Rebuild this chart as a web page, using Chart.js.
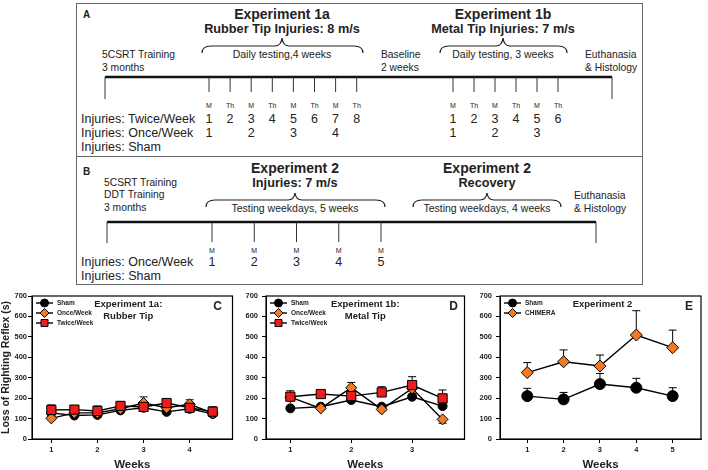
<!DOCTYPE html>
<html>
<head>
<meta charset="utf-8">
<title>Loss of Righting Reflex</title>
<script src="https://cdn.jsdelivr.net/npm/chart.js@4.4.0/dist/chart.umd.min.js"></script>
<style>
  body { margin:0; width:708px; height:470px; background:#fff; position:relative; overflow:hidden;
         font-family:"Liberation Sans", Arial, sans-serif; }
  #diagram { position:absolute; left:0; top:0; }
  canvas { position:absolute; }
</style>
</head>
<body>
<svg id="diagram" width="708" height="290"></svg>
<canvas id="chartC" width="240" height="188" style="left:0;top:286px"></canvas>
<canvas id="chartD" width="232" height="188" style="left:240px;top:286px"></canvas>
<canvas id="chartE" width="236" height="188" style="left:472px;top:286px"></canvas>
<script>
// ---- timeline labels (panels A, B)
const exp1aDays  = ['M','Th','M','Th','M','Th','M','Th'];
const exp1aTwice = ['1','2','3','4','5','6','7','8'];
const exp1aOnce  = ['1','','2','','3','','4',''];
const exp1bDays  = ['M','Th','M','Th','M','Th'];
const exp1bTwice = ['1','2','3','4','5','6'];
const exp1bOnce  = ['1','','2','','3',''];
const exp2Days   = ['M','M','M','M','M'];
const exp2Once   = ['1','2','3','4','5'];

// ---- panel C: Experiment 1a, rubber tip
const weeksC = [1, 1.5, 2, 2.5, 3, 3.5, 4, 4.5];
const ticksC = [1, 2, 3, 4];
const shamC  = [128, 115, 118, 140, 153, 133, 148, 123];
const shamErrC = [8, 8, 8, 10, 12, 10, 12, 8];
const onceC  = [101, 128, 128, 148, 176, 153, 170, 127];
const onceErrC = [10, 10, 10, 12, 30, 15, 22, 10];
const twiceC = [142, 144, 137, 162, 157, 176, 153, 134];
const twiceErrC = [25, 12, 25, 20, 15, 21, 15, 24];

// ---- panel D: Experiment 1b, metal tip
const weeksD = [1, 1.5, 2, 2.5, 3, 3.5];
const ticksD = [1, 2, 3];
const shamD  = [150, 158, 191, 158, 207, 161];
const shamErrD = [8, 8, 10, 8, 12, 10];
const onceD  = [205, 150, 251, 145, 248, 96];
const onceErrD = [10, 8, 26, 10, 20, -19];
const twiceD = [207, 220, 210, 228, 264, 199];
const twiceErrD = [29, 10, 10, 28, 41, 41];

// ---- panel E: Experiment 2
const weeksE = [1, 2, 3, 4, 5];
const ticksE = [1, 2, 3, 4, 5];
const shamE  = [210, 194, 269, 251, 210];
const shamErrE = [38, 34, 52, 46, 41];
const chimeraE = [325, 378, 357, 509, 447];
const chimeraErrE = [49, 58, 54, 119, 86];

const FONT = '"Liberation Sans", Arial, sans-serif';
const ORANGE = '#f07a28';
const RED = '#ee1c1c';

// ---------- diagram ----------
const svg = document.getElementById('diagram');
function el(tag, attrs, text) {
  const e = document.createElementNS('http://www.w3.org/2000/svg', tag);
  for (const k in attrs) e.setAttribute(k, attrs[k]);
  if (text !== undefined) e.textContent = text;
  svg.appendChild(e);
  return e;
}
function txt(x, y, s, size, bold, anchor) {
  el('text', {x: x, y: y, 'font-size': size, 'font-family': FONT, 'font-weight': bold ? 'bold' : 'normal',
    'text-anchor': anchor || 'start', 'dominant-baseline': 'central', fill: '#222'}, s);
}
function line(x1, y1, x2, y2, w, c) {
  el('line', {x1: x1, y1: y1, x2: x2, y2: y2, stroke: c || '#333', 'stroke-width': w || 1});
}
function brace(x0, x1, mid, yTop, yEnd, yPeak) {
  const d = `M${x0},${yEnd} Q${x0},${yTop} ${x0+9},${yTop} L${mid-7},${yTop} Q${mid-1},${yTop} ${mid},${yPeak}` +
            ` Q${mid+1},${yTop} ${mid+7},${yTop} L${x1-9},${yTop} Q${x1},${yTop} ${x1},${yEnd}`;
  el('path', {d: d, fill: 'none', stroke: '#222', 'stroke-width': 1.2});
}

el('rect', {x: 76.5, y: 3.5, width: 566, height: 153, fill: 'none', stroke: '#666'});
el('rect', {x: 76.5, y: 156.5, width: 566, height: 128, fill: 'none', stroke: '#666'});

// panel A
txt(83, 14, 'A', 10, true);
txt(282, 14, 'Experiment 1a', 14, true, 'middle');
txt(282, 29, 'Rubber Tip Injuries: 8 m/s', 12.7, true, 'middle');
brace(202, 363, 282, 46, 53, 38);
txt(282, 54, 'Daily testing,4 weeks', 10.5, false, 'middle');
txt(503, 14, 'Experiment 1b', 14, true, 'middle');
txt(503, 29, 'Metal Tip Injuries: 7 m/s', 12.7, true, 'middle');
brace(440, 567, 503, 46, 53, 38);
txt(503, 54, 'Daily testing, 3 weeks', 10.5, false, 'middle');
txt(102, 54, '5CSRT Training', 10.3);
txt(102, 67, '3 months', 10.3);
txt(381, 54, 'Baseline', 10.3);
txt(381, 67, '2 weeks', 10.3);
txt(585, 54, 'Euthanasia', 10.3);
txt(585, 67, '& Histology', 10.3);
line(105, 77, 612, 77, 2.5, '#111');
line(105, 77, 105, 99);
line(612, 77, 612, 99);
exp1aDays.forEach((d, i) => {
  const x = 209 + i * 21.1;
  line(x, 77, x, 92);
  txt(x, 105, d, 7, false, 'middle');
  txt(x, 119, exp1aTwice[i], 12.5, false, 'middle');
  if (exp1aOnce[i]) txt(x, 133, exp1aOnce[i], 12.5, false, 'middle');
});
exp1bDays.forEach((d, i) => {
  const x = 453 + i * 21;
  line(x, 77, x, 92);
  txt(x, 105, d, 7, false, 'middle');
  txt(x, 119, exp1bTwice[i], 12.5, false, 'middle');
  if (exp1bOnce[i]) txt(x, 133, exp1bOnce[i], 12.5, false, 'middle');
});
txt(81, 119, 'Injuries: Twice/Week', 12.5);
txt(81, 133, 'Injuries: Once/Week', 12.5);
txt(81, 147, 'Injuries: Sham', 12.5);

// panel B
txt(83, 171, 'B', 10, true);
txt(104, 182, '5CSRT Training', 10.3);
txt(104, 194, 'DDT Training', 10.3);
txt(104, 207, '3 months', 10.3);
txt(295, 168, 'Experiment 2', 14, true, 'middle');
txt(295, 183, 'Injuries: 7 m/s', 12.7, true, 'middle');
brace(206, 385, 295, 200, 207, 193);
txt(295, 208, 'Testing weekdays, 5 weeks', 10.5, false, 'middle');
txt(487, 168, 'Experiment 2', 14, true, 'middle');
txt(487, 183, 'Recovery', 12.7, true, 'middle');
brace(413, 561, 487, 200, 207, 193);
txt(487, 208, 'Testing weekdays, 4 weeks', 10.5, false, 'middle');
txt(574, 195, 'Euthanasia', 10.3);
txt(574, 208, '& Histology', 10.3);
line(107, 222, 596, 222, 2.5, '#111');
line(107, 222, 107, 243);
line(596, 222, 596, 243);
exp2Days.forEach((d, i) => {
  const x = 212 + i * 42.25;
  line(x, 222, x, 242);
  txt(x, 250, d, 7, false, 'middle');
  txt(x, 262, exp2Once[i], 12.5, false, 'middle');
});
txt(81, 262, 'Injuries: Once/Week', 12.5);
txt(81, 276, 'Injuries: Sham', 12.5);

// ---------- charts ----------
function marker(ctx, style, x, y, r, fill) {
  ctx.beginPath();
  if (style === 'circle') ctx.arc(x, y, r, 0, Math.PI * 2);
  else if (style === 'rect') ctx.rect(x - r, y - r, 2 * r, 2 * r);
  else { ctx.moveTo(x, y - r); ctx.lineTo(x + r, y); ctx.lineTo(x, y + r); ctx.lineTo(x - r, y); ctx.closePath(); }
  ctx.fillStyle = fill; ctx.fill();
  ctx.strokeStyle = '#000'; ctx.lineWidth = 1; ctx.stroke();
}

const errPlugin = {
  id: 'errbars',
  beforeDatasetsDraw(chart) {
    const {ctx, scales: {x, y}} = chart;
    ctx.save();
    ctx.strokeStyle = '#000'; ctx.lineWidth = 1;
    chart.data.datasets.forEach(ds => {
      ds.data.forEach((p, i) => {
        const px = x.getPixelForValue(p.x);
        const y0 = y.getPixelForValue(p.y);
        const y1 = y.getPixelForValue(p.y + ds.errs[i]);
        ctx.beginPath();
        ctx.moveTo(px, y0); ctx.lineTo(px, y1);
        ctx.moveTo(px - 4, y1); ctx.lineTo(px + 4, y1);
        ctx.stroke();
      });
    });
    ctx.restore();
  }
};

const overlayPlugin = {
  id: 'overlay',
  afterDraw(chart, args, opts) {
    const {ctx, chartArea: a} = chart;
    ctx.save();
    ctx.strokeStyle = '#000'; ctx.lineWidth = 1.2;
    ctx.strokeRect(a.left, a.top, a.right - a.left, a.bottom - a.top);
    // legend
    ctx.textBaseline = 'middle';
    chart.data.datasets.forEach((ds, i) => {
      const y = a.top + 7 + i * 10;
      ctx.beginPath(); ctx.moveTo(a.left + 4, y); ctx.lineTo(a.left + 21, y);
      ctx.strokeStyle = '#000'; ctx.lineWidth = 1.4; ctx.stroke();
      const r = ds.pointStyle === 'rect' ? 3.5 : ds.pointStyle === 'circle' ? 4 : 4.5;
      marker(ctx, ds.pointStyle, a.left + 12.5, y, r, ds.pointBackgroundColor);
      ctx.fillStyle = '#222'; ctx.font = 'bold 6.5px ' + FONT; ctx.textAlign = 'left';
      ctx.fillText(ds.label, a.left + 25, y);
    });
    // inner title and panel letter
    ctx.fillStyle = '#222'; ctx.textAlign = 'center';
    ctx.font = 'bold 9.5px ' + FONT;
    const tx = a.left + (a.right - a.left) * opts.titleX;
    opts.title.forEach((t, i) => ctx.fillText(t, tx, a.top + 8 + i * 12));
    ctx.font = 'bold 12px ' + FONT;
    ctx.fillText(opts.letter, a.right + opts.letterDx, a.top + 11);
    ctx.restore();
  }
};

function makeChart(id, o) {
  const tickFont = {family: FONT, size: 7.5, weight: 'bold'};
  new Chart(document.getElementById(id), {
    type: 'line',
    data: {
      datasets: o.series.map(s => ({
        label: s.label,
        data: o.weeks.map((w, i) => ({x: w, y: s.values[i]})),
        errs: s.errs,
        order: s.order,
        borderColor: '#000', borderWidth: 1.4,
        pointStyle: s.style, pointRadius: s.radius, pointHoverRadius: s.radius,
        pointBackgroundColor: s.color, pointBorderColor: '#000', pointBorderWidth: 1
      }))
    },
    options: {
      responsive: false, animation: false, devicePixelRatio: 1,
      layout: {padding: {top: 10, right: 2, left: 0, bottom: 0}},
      plugins: {legend: {display: false}, tooltip: {enabled: false},
        overlay: {title: o.title, titleX: o.titleX, letter: o.letter, letterDx: o.letterDx}},
      scales: {
        x: {
          type: 'linear', min: o.xMin, max: o.xMax,
          afterBuildTicks: s => { s.ticks = o.ticks.map(v => ({value: v})); },
          afterFit: s => { s.height = 35; },
          grid: {drawOnChartArea: false, tickLength: 4, color: '#000'},
          border: {color: '#000'},
          ticks: {font: tickFont, color: '#222', padding: 2, autoSkip: false, maxRotation: 0,
                  callback: v => String(v)},
          title: {display: true, text: 'Weeks', color: '#222', padding: {top: 0, bottom: 2},
                  font: {family: FONT, size: 11.5, weight: 'bold'}}
        },
        y: {
          min: 0, max: 700,
          afterFit: s => { s.width = o.yWidth; },
          grid: {drawOnChartArea: false, tickLength: 4, color: '#000'},
          border: {color: '#000'},
          ticks: {stepSize: 100, font: tickFont, color: '#222', padding: o.yPad},
          title: {display: !!o.yTitle, text: o.yTitle || '', color: '#222', padding: 0,
                  font: {family: FONT, size: 10.5, weight: 'bold'}}
        }
      }
    },
    plugins: [errPlugin, overlayPlugin]
  });
}

const small = {circle: 4.5, rect: 6.5, rectRot: 5.5};

makeChart('chartC', {
  weeks: weeksC, ticks: ticksC, xMin: 0.58, xMax: 4.93, yWidth: 32, yPad: 1,
  yTitle: 'Loss of Righting Reflex (s)',
  title: ['Experiment 1a:', 'Rubber Tip'], titleX: 0.48, letter: 'C', letterDx: -15,
  series: [
    {label: 'Sham', values: shamC, errs: shamErrC, style: 'circle', radius: small.circle, color: '#000', order: 3},
    {label: 'Once/Week', values: onceC, errs: onceErrC, style: 'rectRot', radius: small.rectRot, color: ORANGE, order: 2},
    {label: 'Twice/Week', values: twiceC, errs: twiceErrC, style: 'rect', radius: small.rect, color: RED, order: 1}
  ]
});

makeChart('chartD', {
  weeks: weeksD, ticks: ticksD, xMin: 0.6, xMax: 3.86, yWidth: 26, yPad: 4,
  title: ['Experiment 1b:', 'Metal Tip'], titleX: 0.5, letter: 'D', letterDx: -11,
  series: [
    {label: 'Sham', values: shamD, errs: shamErrD, style: 'circle', radius: small.circle, color: '#000', order: 3},
    {label: 'Once/Week', values: onceD, errs: onceErrD, style: 'rectRot', radius: small.rectRot, color: ORANGE, order: 2},
    {label: 'Twice/Week', values: twiceD, errs: twiceErrD, style: 'rect', radius: small.rect, color: RED, order: 1}
  ]
});

makeChart('chartE', {
  weeks: weeksE, ticks: ticksE, xMin: 0.25, xMax: 5.78, yWidth: 28, yPad: 4,
  title: ['Experiment 2'], titleX: 0.51, letter: 'E', letterDx: -12,
  series: [
    {label: 'Sham', values: shamE, errs: shamErrE, style: 'circle', radius: 5.5, color: '#000', order: 2},
    {label: 'CHIMERA', values: chimeraE, errs: chimeraErrE, style: 'rectRot', radius: 6, color: ORANGE, order: 1}
  ]
});
</script>
</body>
</html>
